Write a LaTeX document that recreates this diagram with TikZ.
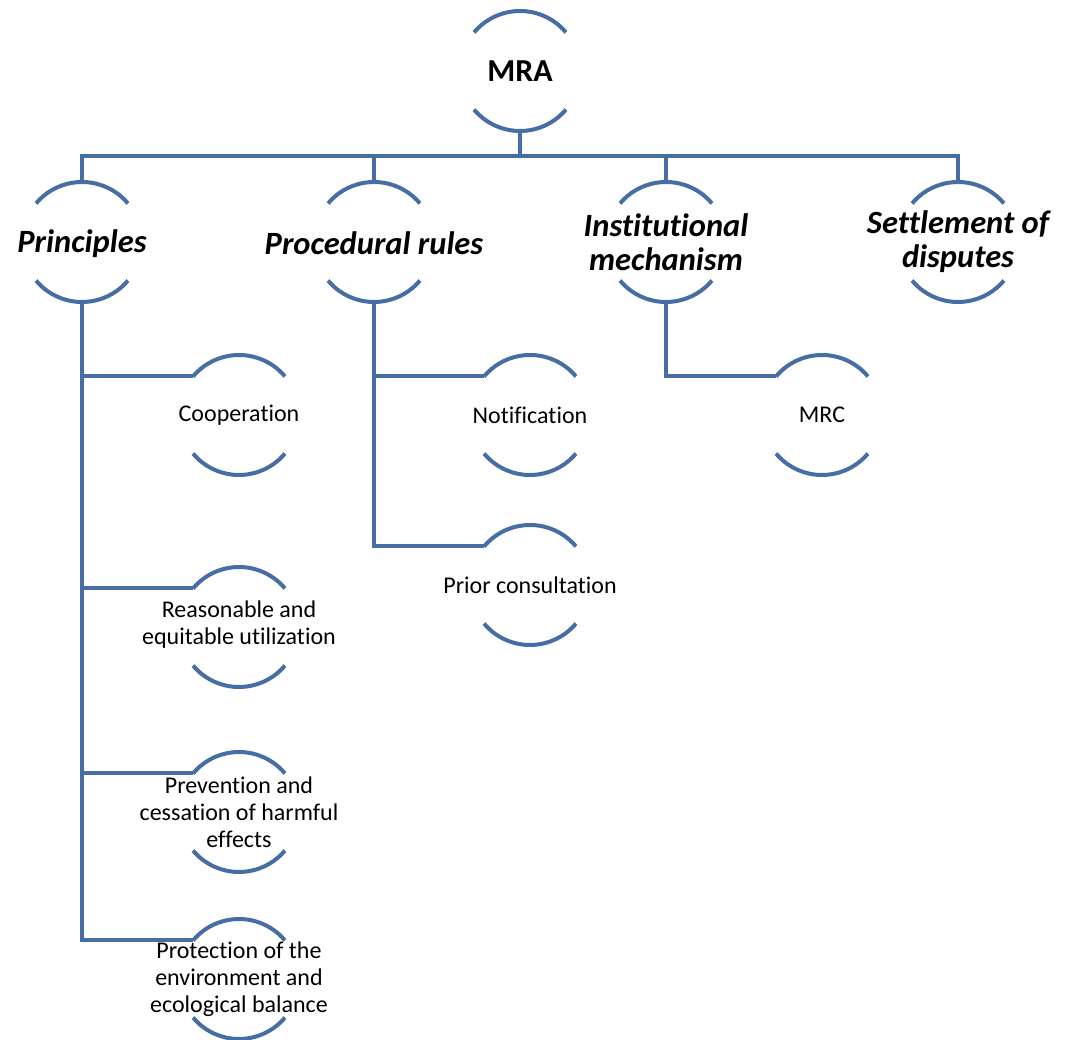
\documentclass[tikz,border=0pt]{standalone}
\usepackage{fontspec}
\setmainfont{Carlito}[Ligatures={NoCommon}]
\definecolor{linec}{HTML}{466EA5}
\begin{document}
\begin{tikzpicture}[x=1pt,y=1pt,
  conn/.style={draw=linec,line width=4pt,line join=miter},
  arcl/.style={draw=linec,line width=4pt},
  circ/.style={circle,minimum size=120pt,inner sep=0pt,outer sep=0pt,draw=none},
  topt/.style={font=\fontsize{32}{35}\selectfont\bfseries,align=center},
  lvone/.style={font=\fontsize{32.5}{34}\selectfont\bfseries\itshape,align=center},
  lvtwo/.style={font=\fontsize{24}{27}\selectfont,align=center}]
\useasboundingbox (0,0) rectangle (1068,1039);
\newcommand{\arcs}[1]{%
  \draw[arcl] (#1.center) ++(40:60pt) arc[start angle=40,end angle=140,radius=60pt];
  \draw[arcl] (#1.center) ++(220:60pt) arc[start angle=220,end angle=320,radius=60pt];}
% nodes
\node[circ] (mra) at (520,968) {};
\node[topt] (mrat) at (mra.center) {MRA};
\node[circ] (pri) at (82,797) {};
\node[lvone] (prit) at ([yshift=-2pt]pri.center) {Principles};
\node[circ] (pro) at (374,797) {};
\node[lvone] (prot) at ([yshift=-1pt]pro.center) {Procedural rules};
\node[circ] (ins) at (666,797) {};
\node[lvone] (inst) at (ins.center) {Institutional\\mechanism};
\node[circ] (set) at (958,797) {};
\node[lvone] (sett) at (set.center) {Settlement of\\disputes};
\node[circ] (coo) at (239,624) {};
\node[lvtwo] (coot) at (coo.center) {Cooperation};
\node[circ] (rea) at (239,412) {};
\node[lvtwo] (reat) at ([yshift=2pt]rea.center) {Reasonable and\\equitable utilization};
\node[circ] (pre) at (239,227) {};
\node[lvtwo] (pret) at (pre.center) {Prevention and\\cessation of harmful\\effects};
\node[circ] (ptc) at (239,60) {};
\node[lvtwo] (ptct) at (ptc.center) {Protection of the\\environment and\\ecological balance};
\node[circ] (not) at (530,624) {};
\node[lvtwo] (nott) at (not.center) {Notification};
\node[circ] (pcs) at (530,454) {};
\node[lvtwo] (pcst) at (pcs.center) {Prior consultation};
\node[circ] (mrc) at (822,624) {};
\node[lvtwo] (mrct) at (mrc.center) {MRC};
% arcs
\foreach \n in {mra,pri,pro,ins,set,coo,rea,pre,ptc,not,pcs,mrc}{\arcs{\n}}
% bus
\coordinate (bus) at (520,883);
\draw[conn] (mra.south) -- (bus);
\draw[conn] (pri.north) |- (set.north |- bus) -- (set.north);
\draw[conn] (pro.north) -- (pro.north |- bus);
\draw[conn] (ins.north) -- (ins.north |- bus);
% principles children
\draw[conn] (pri.south) |- (ptc.140);
\draw[conn] (pri.south |- coo.140) -- (coo.140);
\draw[conn] (pri.south |- rea.140) -- (rea.140);
\draw[conn] (pri.south |- pre.140) -- (pre.140);
% procedural children
\draw[conn] (pro.south) |- (pcs.140);
\draw[conn] (pro.south |- not.140) -- (not.140);
% institutional
\draw[conn] (ins.south) |- (mrc.140);
\end{tikzpicture}
\end{document}
